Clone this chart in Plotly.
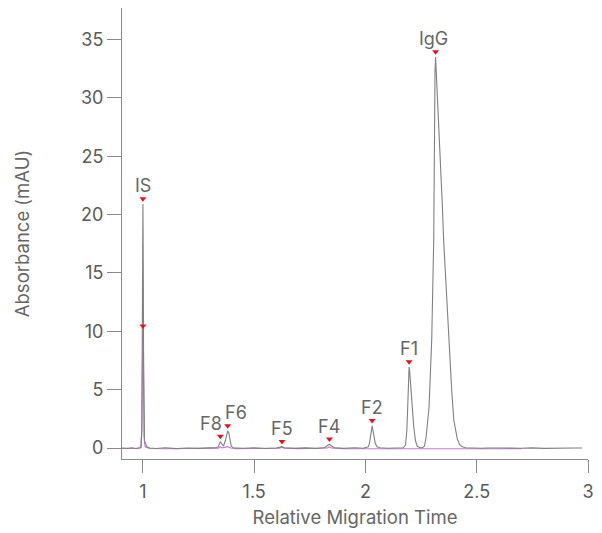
import plotly.graph_objects as go

# Main electropherogram (absorbance vs relative migration time)
main_t = [0.906, 0.93, 0.95, 0.97, 0.985, 0.992, 0.995, 0.997, 0.9985, 1.0, 1.0015, 1.003,
          1.005, 1.007, 1.012, 1.018, 1.03, 1.06, 1.10, 1.15, 1.20, 1.25, 1.30, 1.33,
          1.338, 1.344, 1.348, 1.353, 1.362, 1.370, 1.376, 1.381, 1.386, 1.391, 1.397,
          1.405, 1.45, 1.50, 1.55, 1.60, 1.615, 1.625, 1.635, 1.68, 1.73, 1.78, 1.815,
          1.828, 1.838, 1.848, 1.86, 1.90, 1.95, 1.99, 2.005, 2.013, 2.018, 2.0235,
          2.027, 2.030, 2.033, 2.038, 2.044, 2.052, 2.065, 2.10, 2.14, 2.170, 2.180,
          2.186, 2.190, 2.193, 2.196, 2.199, 2.204, 2.210, 2.217, 2.225, 2.233, 2.245,
          2.256, 2.265, 2.2723, 2.2857, 2.2978, 2.3067, 2.3094, 2.3125, 2.315, 2.3183,
          2.3335, 2.345, 2.3513, 2.365, 2.3781, 2.388, 2.397, 2.405, 2.413, 2.423,
          2.435, 2.45, 2.48, 2.52, 2.55, 2.60, 2.65, 2.70, 2.75, 2.80, 2.85, 2.90,
          2.94, 2.973]
main_abs = [0.0, -0.03, 0.02, -0.04, 0.02, 0.1, 1.5, 8.0, 16.0, 20.9, 16.0, 8.0,
            2.0, 0.6, 0.4, 0.1, 0.0, -0.04, 0.02, -0.05, 0.0, -0.03, 0.01, 0.02,
            0.1, 0.4, 0.55, 0.4, 0.17, 0.6, 1.2, 1.46, 1.3, 0.6, 0.15,
            0.03, -0.02, 0.01, -0.04, 0.0, 0.04, 0.12, 0.03, -0.03, 0.01, -0.04, 0.03,
            0.18, 0.32, 0.18, 0.03, -0.03, 0.02, -0.02, 0.02, 0.1, 0.4, 0.95,
            1.6, 1.9, 1.6, 0.95, 0.4, 0.1, 0.02, -0.02, 0.0, 0.02, 0.25,
            1.5, 3.6, 5.6, 6.95, 6.5, 5.0, 3.4, 1.8, 0.6, 0.15, 0.02,
            0.02, 0.15, 0.9, 3.5, 9.3, 17.8, 26.4, 32.2, 33.5, 32.2,
            26.4, 21.0, 17.8, 12.5, 8.0, 4.8, 2.4, 1.4, 0.75, 0.3,
            0.1, 0.03, 0.0, -0.02, 0.0, -0.03, 0.0, -0.02, 0.01, -0.03, 0.0, -0.02,
            0.0, 0.0]

# Blank / reference trace
ref_t = [0.906, 0.94, 0.97, 0.99, 0.995, 0.998, 1.0, 1.002, 1.005, 1.01, 1.03, 1.10,
         1.20, 1.30, 1.34, 1.348, 1.356, 1.366, 1.381, 1.395, 1.42, 1.50, 1.60, 1.615,
         1.625, 1.635, 1.70, 1.80, 1.83, 1.838, 1.846, 1.90, 2.00, 2.10, 2.20, 2.30,
         2.40, 2.50, 2.60, 2.70]
ref_abs = [-0.04, -0.06, -0.03, 0.0, 1.5, 7.0, 10.0, 7.0, 1.0, 0.1, -0.04, -0.06,
           -0.04, -0.05, 0.0, 0.12, 0.02, 0.05, 0.12, 0.0, -0.05, -0.04, -0.06, 0.0,
           0.08, 0.0, -0.05, -0.04, 0.02, 0.1, 0.02, -0.05, -0.06, -0.05, -0.06, -0.05,
           -0.06, -0.05, -0.06, -0.05]

# Peak identification
peak_names = ["IS", "F8", "F6", "F5", "F4", "F2", "F1", "IgG"]
peak_t = [1.0, 1.348, 1.381, 1.625, 1.838, 2.030, 2.196, 2.315]
peak_abs = [20.9, 0.55, 1.46, 0.12, 0.32, 1.9, 6.95, 33.5]
ref_peak_t = [1.0]
ref_peak_abs = [10.0]

# label offsets (px) so neighbouring names do not collide
label_dx = [0, -9, 8, 0, 0, 0, 0, -2]
marker_lift = 0.45
label_lift = 13

text_grey = "#666666"
axis_grey = "#8a8a8a"

fig = go.Figure()
fig.add_trace(go.Scatter(x=ref_t, y=ref_abs, mode="lines",
                         line=dict(color="#c77dd3", width=1.2), hoverinfo="skip"))
fig.add_trace(go.Scatter(x=main_t, y=main_abs, mode="lines",
                         line=dict(color="#808080", width=1.1), hoverinfo="skip"))
fig.add_trace(go.Scatter(x=peak_t + ref_peak_t,
                         y=[v + marker_lift for v in peak_abs + ref_peak_abs],
                         mode="markers",
                         marker=dict(symbol="triangle-down", size=6, color="#e8101a",
                                     line=dict(width=0))))

for name, t, v, dx in zip(peak_names, peak_t, peak_abs, label_dx):
    fig.add_annotation(x=t, y=v + marker_lift, text=name, showarrow=False,
                       xshift=dx, yshift=label_lift, yanchor="middle",
                       font=dict(family="Inter, sans-serif", size=18, color=text_grey))

tick_font = dict(family="Inter, sans-serif", size=18, color="#5a5a5a")
title_font = dict(family="Inter, sans-serif", size=18.5, color=text_grey)
fig.update_layout(
    width=602, height=533,
    margin=dict(l=122, r=11, t=8, b=74),
    paper_bgcolor="white", plot_bgcolor="white",
    showlegend=False,
    font=dict(family="Inter, sans-serif"),
    xaxis=dict(range=[0.906, 3.0], tickvals=[1, 1.5, 2, 2.5, 3],
               ticktext=["1", "1.5", "2", "2.5", "3"],
               showgrid=False, zeroline=False, showline=True, linecolor=axis_grey,
               linewidth=1, ticks="outside", ticklen=13, tickcolor=axis_grey,
               tickfont=tick_font, ticklabelstandoff=3,
               title=dict(text="Relative Migration Time", standoff=10, font=title_font)),
    yaxis=dict(range=[-0.94, 37.7], tickvals=[0, 5, 10, 15, 20, 25, 30, 35],
               showgrid=False, zeroline=False, showline=True, linecolor=axis_grey,
               linewidth=1, ticks="outside", ticklen=14, tickcolor=axis_grey,
               tickfont=tick_font,
               title=dict(text="Absorbance (mAU)", standoff=46, font=title_font)),
)

fig.write_html("out.html")
